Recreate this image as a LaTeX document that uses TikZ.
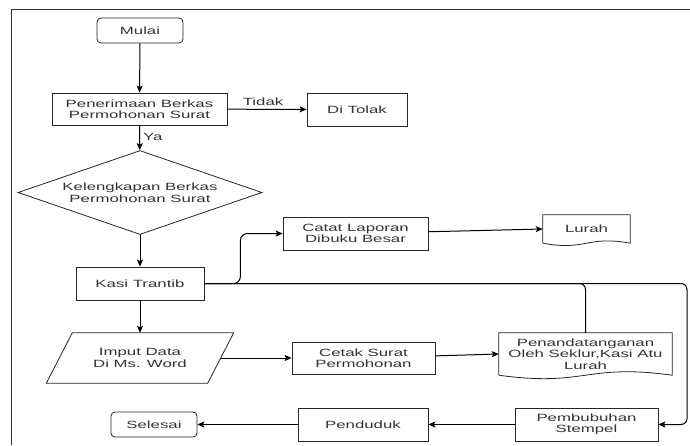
\documentclass[tikz,border=0pt]{standalone}
\usepackage{fontspec}
\setmainfont{Liberation Sans}[FakeStretch=1.6]
\usetikzlibrary{shapes.geometric,arrows.meta,calc}
\begin{document}
\begin{tikzpicture}[x=1pt,y=-1pt,
  every node/.style={font=\fontsize{10.5}{11.5}\selectfont, text=black!80, align=center, inner sep=0pt},
  box/.style={draw=black!85, line width=0.8pt, rectangle, minimum width=#1, minimum height=33pt},
  rbox/.style={draw=black!85, line width=0.8pt, rectangle, rounded corners=4pt, minimum width=86pt, minimum height=25pt},
  shp/.style={draw=black!85, line width=0.8pt},
  arr/.style={draw=black, line width=1pt, -{Stealth[length=7pt,width=6pt,inset=1.5pt]}},
  ln/.style={draw=black, line width=1pt}]
\useasboundingbox (0,0) rectangle (690,445);
\fill[white] (0,0) rectangle (690,445);
\draw[black!80, line width=1pt] (11,445) -- (11,9) -- (690,9);

\node[rbox] (mulai) at (140,30.5) {Mulai};
\node[box=175pt, minimum height=32pt] (pener) at (139.5,109) {Penerimaan Berkas\\Permohonan Surat};
\node[box=100pt] (tolak) at (357,109.5) {Di Tolak};
\node[diamond, aspect=2.9, draw=black!85, line width=0.8pt, minimum width=244pt, minimum height=84pt] (diam) at (140,192.5) {Kelengkapan Berkas\\Permohonan Surat};
\node[box=128pt] (kasi) at (140,283.5) {Kasi Trantib};
\node[box=145pt] (catat) at (355.5,233.5) {Catat Laporan\\Dibuku Besar};

% Lurah document
\node[minimum width=87pt, minimum height=28pt] (lurah) at (586.5,229) {Lurah};
\draw[shp] (lurah.south west) -- (lurah.north west) -- (lurah.north east) -- (lurah.south east)
  .. controls ($(lurah.south)+(0,-8)$) and ($(lurah.south)+(0,8)$) .. (lurah.south west);

% Imput data parallelogram
\node[minimum width=161pt, minimum height=50pt] (imput) at (140,358) {Imput Data\\Di Ms. Word};
\draw[shp] ($(imput.north west)+(13,0)$) -- ($(imput.north east)+(13,0)$) -- ($(imput.south east)+(-13,0)$) -- ($(imput.south west)+(-13,0)$) -- cycle;

\node[box=143pt, minimum height=32pt] (cetak) at (363.5,358) {Cetak Surat\\Permohonan};

% Penandatanganan document
\node[minimum width=173pt, minimum height=42pt] (penand) at (585.5,354) {Penandatanganan\\Oleh Seklur,Kasi Atu\\Lurah};
\draw[shp] (penand.south west) -- (penand.north west) -- (penand.north east) -- (penand.south east)
  .. controls ($(penand.south)+(0,-12)$) and ($(penand.south)+(0,12)$) .. (penand.south west);

\node[box=143pt] (pembub) at (586.5,424.5) {Pembubuhan\\Stempel};
\node[box=130pt] (pendu) at (363,424.5) {Penduduk};
\node[rbox] (selesai) at (154,424.5) {Selesai};

% connectors
\draw[arr] (mulai) -- (pener);
\draw[arr] (pener) -- node[above, pos=0.45, yshift=3pt] {Tidak} (tolak);
\draw[arr] (pener) -- node[right, pos=0.45, xshift=3pt] {Ya} (diam);
\draw[arr] (diam) -- (kasi);
\draw[arr, rounded corners=7pt] (kasi.east) -- ++(36,0) |- (catat.west);
\draw[arr] (catat) -- (lurah.west);
\draw[arr] (kasi) -- (imput);
\draw[arr] (imput.east) -- (cetak.west);
\draw[arr] (cetak) -- (penand.west);
\coordinate (rc) at (687,283.5);
\draw[ln, rounded corners=6pt] (penand.north) |- (kasi.east);
\draw[arr, rounded corners=6pt] (kasi.east) -- (rc) |- (pembub.east);
\draw[arr] (pembub) -- (pendu);
\draw[arr] (pendu) -- (selesai);
\end{tikzpicture}
\end{document}
